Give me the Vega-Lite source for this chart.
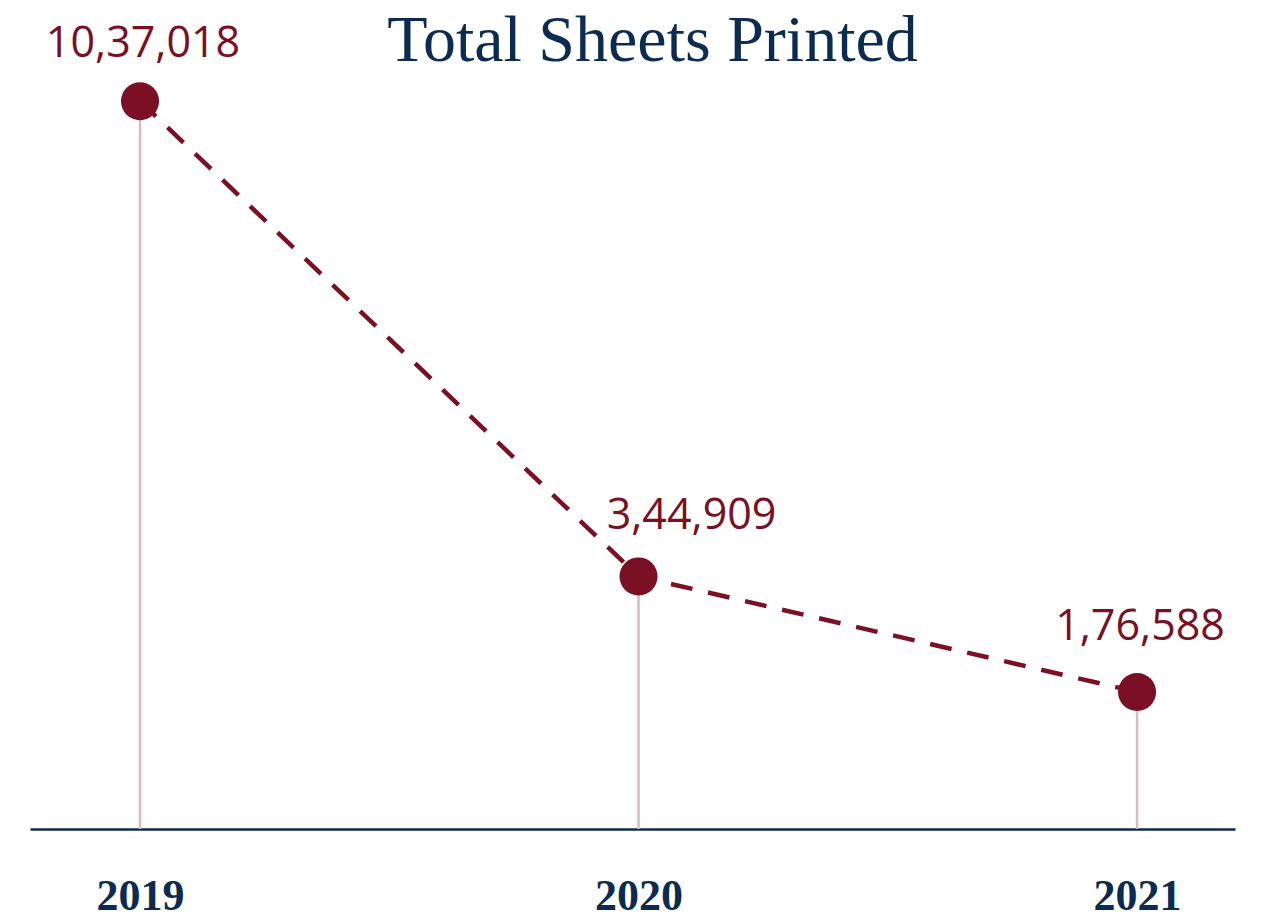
{
  "$schema": "https://vega.github.io/schema/vega-lite/v6.json",
  "width": 1205,
  "height": 749,
  "autosize": {"type": "none"},
  "padding": {"left": 30, "top": 80, "right": 34, "bottom": 88},
  "background": "white",
  "title": {
    "text": "Total Sheets Printed",
    "font": "Liberation Serif",
    "fontSize": 66,
    "fontWeight": "normal",
    "color": "#0c2b50",
    "anchor": "middle",
    "frame": "group",
    "offset": -52,
    "dx": 20
  },
  "data": {
    "values": [
      {"year": "2019", "sheets": 1037018},
      {"year": "2020", "sheets": 344909},
      {"year": "2021", "sheets": 176588}
    ]
  },
  "encoding": {
    "x": {
      "field": "year",
      "type": "ordinal",
      "scale": {"type": "point", "padding": 0.2086, "align": 0.529},
      "axis": {
        "title": null,
        "ticks": false,
        "tickSize": 0,
        "grid": false,
        "labelAngle": 0,
        "labelFont": "Liberation Serif",
        "labelFontWeight": "bold",
        "labelFontSize": 44,
        "labelColor": "#0c2b50",
        "labelBaseline": "alphabetic",
        "labelPadding": 80,
        "domainColor": "#0c2b50",
        "domainWidth": 2.5
      }
    },
    "y": {
      "field": "sheets",
      "type": "quantitative",
      "scale": {"domain": [-23000, 1068000], "nice": false, "zero": false},
      "axis": null
    }
  },
  "layer": [
    {
      "mark": {"type": "rule", "color": "#dbb9c2", "strokeWidth": 2.5},
      "encoding": {"y2": {"datum": -23000}}
    },
    {
      "mark": {"type": "line", "color": "#7b1024", "strokeWidth": 4.5, "strokeDash": [22, 16]},
      "encoding": {}
    },
    {
      "mark": {"type": "point", "filled": true, "shape": "circle", "size": 1450, "color": "#7b1024", "opacity": 1},
      "encoding": {}
    },
    {
      "transform": [{"filter": "datum.year == '2019'"}],
      "mark": {"type": "text", "font": "Open Sans", "fontSize": 43, "color": "#7b1024", "baseline": "alphabetic", "align": "center", "dx": 3, "dy": -44},
      "encoding": {"text": {"field": "sheets", "type": "quantitative", "format": ",d"}}
    },
    {
      "transform": [{"filter": "datum.year == '2020'"}],
      "mark": {"type": "text", "font": "Open Sans", "fontSize": 43, "color": "#7b1024", "baseline": "alphabetic", "align": "center", "dx": 53, "dy": -47},
      "encoding": {"text": {"field": "sheets", "type": "quantitative", "format": ",d"}}
    },
    {
      "transform": [{"filter": "datum.year == '2021'"}],
      "mark": {"type": "text", "font": "Open Sans", "fontSize": 43, "color": "#7b1024", "baseline": "alphabetic", "align": "center", "dx": 3, "dy": -52},
      "encoding": {"text": {"field": "sheets", "type": "quantitative", "format": ",d"}}
    }
  ],
  "config": {
    "view": {"stroke": null},
    "locale": {
      "number": {
        "decimal": ".",
        "thousands": ",",
        "grouping": [3, 2, 2, 2, 2, 2, 2],
        "currency": ["₹", ""]
      }
    }
  }
}
